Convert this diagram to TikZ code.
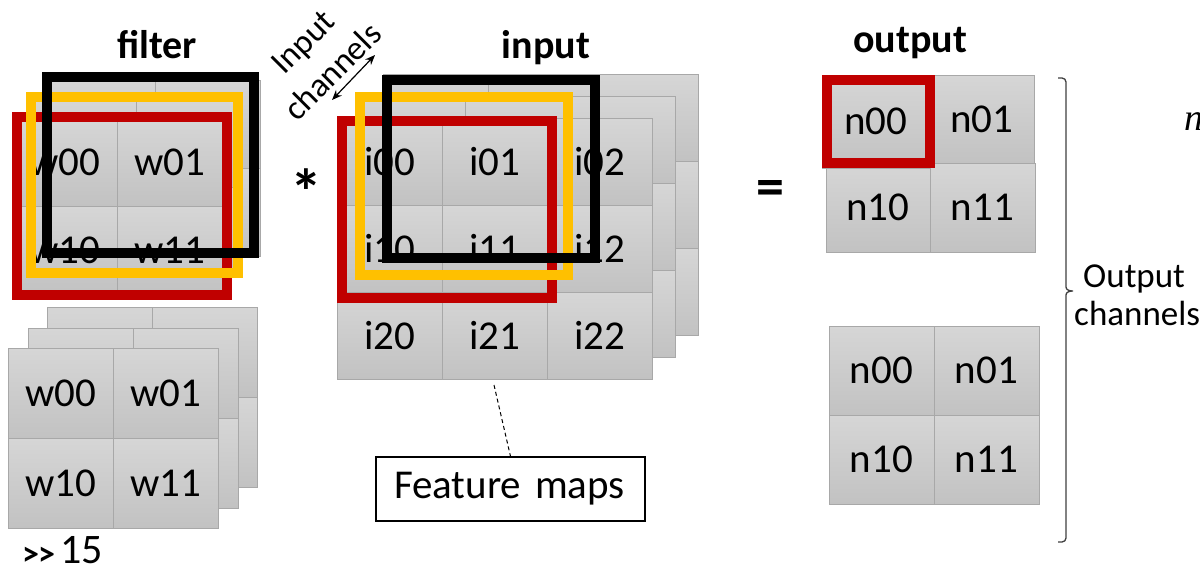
\documentclass[tikz,border=0pt]{standalone}
\usepackage{fontspec}
\setmainfont{Carlito}
\newfontfamily\serifface{Liberation Serif}
\usetikzlibrary{arrows.meta}
\definecolor{cellTop}{HTML}{D6D6D6}
\definecolor{cellBot}{HTML}{C2C2C2}
\definecolor{cellEdge}{HTML}{A8A8A8}
\definecolor{frameRed}{HTML}{C00000}
\definecolor{frameGold}{HTML}{FFC000}
\definecolor{braceInk}{HTML}{404040}
\tikzset{
  cell/.style={rectangle, draw=cellEdge, line width=0.9pt, top color=cellTop,
    bottom color=cellBot, anchor=north west, inner sep=0pt, outer sep=0pt,
    font=\fontsize{41}{44}\selectfont},
  fcell/.style={cell, minimum width=105pt, minimum height=88pt},
  gcell/.style={cell, minimum width=105pt, minimum height=90pt},
  icell/.style={cell, minimum width=105pt, minimum height=87pt},
  ocell/.style={cell, minimum width=104pt, minimum height=88pt},
  pcell/.style={cell, minimum width=105pt, minimum height=89pt},
  winframe/.style={line width=9.5pt},
  title/.style={font=\fontsize{40}{44}\selectfont\bfseries, anchor=base, inner sep=0pt},
  plain/.style={font=\fontsize{35}{40}\selectfont, inner sep=0pt},
}
\begin{document}
\begin{tikzpicture}[x=1pt, y=-1pt]
\fill[white] (0,0) rectangle (1200,570);
\useasboundingbox (0,0) rectangle (1200,570);

% ---------- filter, sliding windows ----------
\foreach \lx/\ly/\tg in {50/80/c, 31/99/b}
  \foreach \r in {0,1}
    \foreach \c in {0,1}
      \node[fcell] (ft\tg\r\c) at (\lx+\c*105, \ly+\r*88) {};
\foreach \r in {0,1}
  \foreach \c in {0,1}
    \node[fcell] (fta\r\c) at (12+\c*105, 118+\r*88) {w\r\c};
\draw[winframe, frameRed]  (17,117) rectangle (227,295);
\draw[winframe, frameGold] (31,97) rectangle (238,273);
\draw[winframe, black]     (47,77) rectangle (254,253);

% ---------- stack of filters ----------
\foreach \lx/\ly/\tg in {47/307/c, 28/328/b}
  \foreach \r in {0,1}
    \foreach \c in {0,1}
      \node[gcell] (fb\tg\r\c) at (\lx+\c*105, \ly+\r*90) {};
\foreach \r in {0,1}
  \foreach \c in {0,1}
    \node[gcell] (fba\r\c) at (8+\c*105, 348+\r*90) {w\r\c};
\node[anchor=base west, inner sep=0pt] (count) at (22,563)
  {\raisebox{-2pt}{\fontsize{34}{36}\selectfont\bfseries >\kern-1pt>}\hspace{5pt}{\fontsize{42}{44}\selectfont 15}};

% ---------- input feature maps ----------
\foreach \lx/\ly/\tg in {383/74/c, 360/96/b}
  \foreach \r in {0,1,2}
    \foreach \c in {0,1,2}
      \node[icell] (in\tg\r\c) at (\lx+\c*105, \ly+\r*87) {};
\foreach \r in {0,1,2}
  \foreach \c in {0,1,2}
    \node[icell] (ina\r\c) at (337+\c*105, 118+\r*87) {i\r\c};
\draw[winframe, frameRed]  (342,121) rectangle (552,298);
\draw[winframe, frameGold] (360,97) rectangle (568,275);
\draw[winframe, black]     (387,80) rectangle (595,258);

% ---------- output maps ----------
\node[ocell] (o01) at (930,75) {n01};
\node[ocell, minimum height=89pt] (o10) at (826,163) {n10};
\node[ocell, minimum width=105pt, minimum height=89pt] (o11) at (930,163) {n11};
\node[cell, minimum width=108pt, minimum height=93pt] (o00) at (822,75) {n00};
\draw[winframe, frameRed] (827,80) rectangle (930,163);

\foreach \r in {0,1}
  \foreach \c in {0,1}
    \node[pcell] (p\r\c) at (829+\c*105, 326+\r*89) {n\r\c};

% ---------- titles and operators ----------
\node[title] (tfilter) at (157,58) {filter};
\node[title] (tinput)  at (546,58) {input};
\node[title] (toutput) at (910,52) {output};
\node[font=\fontsize{64}{66}\selectfont\bfseries, anchor=base, inner sep=0pt] (star) at (306,214) {*};
\node[font=\fontsize{56}{60}\selectfont\bfseries, anchor=base, inner sep=0pt] (eq) at (770,205) {=};

% ---------- input channel depth ----------
\node[rotate=45, align=center, font=\fontsize{34}{42}\selectfont, inner sep=0pt] (inch) at (318,57) {Input\\channels};
\coordinate (chA) at (332,100);
\coordinate (chB) at (375,55);
\draw[{Stealth[length=10pt,width=8pt]}-{Stealth[length=10pt,width=8pt]}, line width=1.2pt] (chA) -- (chB);

% ---------- feature map callout ----------
\node[draw, line width=1.3pt, minimum width=269pt, minimum height=64pt, text width=233pt,
  align=left, inner sep=0pt, font=\fontsize{41}{44}\selectfont] (fm) at (510.5,489) {Feature maps};
\coordinate (fmtip) at (494,385);
\draw[line width=1pt, dash pattern=on 4pt off 3pt] (fmtip) -- (fm.north);

% ---------- output channel brace ----------
\coordinate (brTop) at (1058,78);
\coordinate (brBot) at (1058,542);
\draw[braceInk, line width=1.3pt] (brTop) -- (1062,78) to[out=0,in=90] (1066,82) -- (1066,287)
  to[out=-90,in=180] (1073,291) to[out=180,in=90] (1066,295) -- (1066,538)
  to[out=-90,in=0] (1062,542) -- (brBot);
\node[plain, anchor=base west] (och1) at (1083,287) {Output};
\node[plain, anchor=base west] (och2) at (1074,325) {channels};

\node[font=\serifface\itshape\fontsize{38}{40}\selectfont, anchor=base west, inner sep=0pt] (nvar) at (1184,130) {n};
\end{tikzpicture}
\end{document}
